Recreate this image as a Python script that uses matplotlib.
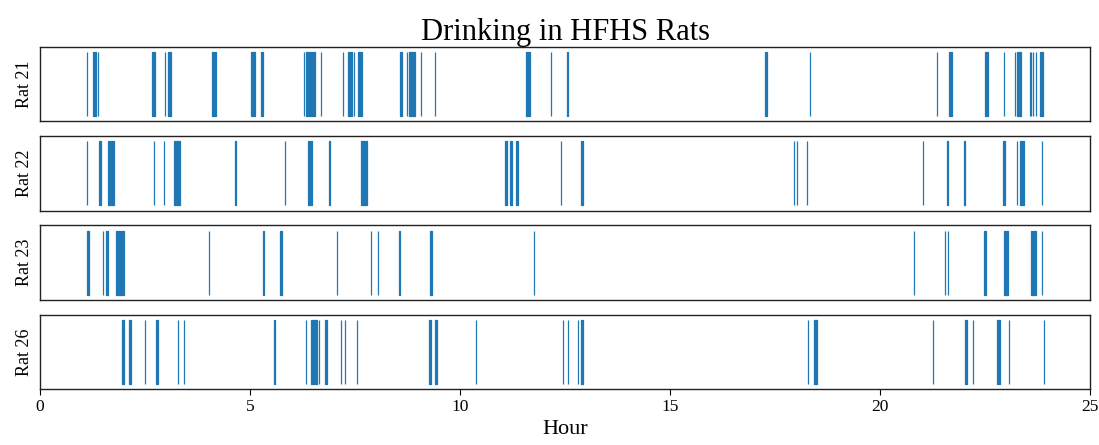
import matplotlib
matplotlib.use("Agg")
import matplotlib.pyplot as plt

plt.rcParams['font.family'] = ['Liberation Serif', 'DejaVu Serif']

# drinking bouts per rat, (start hour, end hour); start == end is a single lick event
rat21 = [(1.13, 1.13), (1.27, 1.33), (1.38, 1.38), (2.67, 2.74), (2.98, 2.98), (3.05, 3.11),
         (4.10, 4.19), (5.02, 5.12), (5.25, 5.31), (6.28, 6.28), (6.33, 6.55), (6.69, 6.69),
         (7.21, 7.21), (7.34, 7.42), (7.47, 7.47), (7.56, 7.67), (8.58, 8.62), (8.73, 8.73),
         (8.79, 8.93), (9.07, 9.07), (9.41, 9.41), (11.56, 11.67), (12.17, 12.17), (12.54, 12.58),
         (17.25, 17.31), (18.33, 18.33), (21.35, 21.35), (21.64, 21.71), (22.49, 22.56),
         (22.94, 22.94), (23.21, 23.21), (23.26, 23.36), (23.56, 23.56), (23.60, 23.60),
         (23.65, 23.65), (23.70, 23.70), (23.80, 23.88)]
rat22 = [(1.13, 1.13), (1.41, 1.46), (1.63, 1.76), (2.72, 2.72), (2.95, 2.95), (3.20, 3.33),
         (4.63, 4.67), (5.83, 5.83), (6.37, 6.47), (6.87, 6.91), (7.64, 7.78), (11.07, 11.11),
         (11.19, 11.23), (11.34, 11.39), (12.40, 12.40), (12.88, 12.92), (17.96, 17.96),
         (18.02, 18.02), (18.25, 18.25), (21.02, 21.02), (21.58, 21.62), (21.99, 22.03),
         (22.92, 22.96), (23.26, 23.26), (23.32, 23.42), (23.86, 23.86)]
rat23 = [(1.12, 1.16), (1.49, 1.49), (1.57, 1.61), (1.82, 1.99), (4.03, 4.03), (5.30, 5.34),
         (5.71, 5.75), (7.06, 7.06), (7.88, 7.88), (8.05, 8.05), (8.54, 8.58), (9.28, 9.34),
         (11.76, 11.76), (20.80, 20.80), (21.54, 21.54), (21.61, 21.61), (22.48, 22.52),
         (22.94, 23.04), (23.58, 23.71), (23.85, 23.85)]
rat26 = [(1.96, 2.00), (2.12, 2.16), (2.50, 2.50), (2.76, 2.80), (3.29, 3.29), (3.43, 3.43),
         (5.56, 5.60), (6.34, 6.34), (6.45, 6.59), (6.64, 6.64), (6.79, 6.83), (7.17, 7.17),
         (7.27, 7.27), (7.54, 7.54), (9.26, 9.30), (9.40, 9.44), (10.38, 10.38), (12.44, 12.44),
         (12.58, 12.58), (12.81, 12.81), (12.88, 12.92), (18.29, 18.29), (18.43, 18.50),
         (21.25, 21.25), (22.03, 22.07), (22.21, 22.21), (22.77, 22.86), (23.07, 23.07),
         (23.90, 23.90)]

rat_names = ['Rat 21', 'Rat 22', 'Rat 23', 'Rat 26']
rat_bouts = [rat21, rat22, rat23, rat26]
hour_ticks = [0, 5, 10, 15, 20, 25]

color = '#1f77b4'

fig, axes = plt.subplots(4, 1, figsize=(10.99, 4.45), dpi=100, sharex=True)
fig.subplots_adjust(left=0.0364, right=0.992, top=0.894, bottom=0.126, hspace=0.2)

for ax, name, bouts in zip(axes, rat_names, rat_bouts):
    spans = [(s, e - s) for s, e in bouts]
    ax.broken_barh(spans, (0, 1), facecolors=color, edgecolors=color, linewidth=0.9)
    ax.set_ylim(-0.08, 1.08)
    ax.set_yticks([])
    ax.set_ylabel(name, fontsize=13, labelpad=5)
    ax.tick_params(axis='x', length=0)
    for sp in ax.spines.values():
        sp.set_linewidth(1.0)
        sp.set_color('#222222')

axes[-1].set_xlim(0, 25)
axes[-1].set_xticks(hour_ticks)
axes[-1].tick_params(axis='x', length=4, labelsize=12.5)
axes[-1].set_xlabel('Hour', fontsize=16, labelpad=3)
axes[0].set_title('Drinking in HFHS Rats', fontsize=22, pad=2)

fig.savefig('out.png', dpi=100)
